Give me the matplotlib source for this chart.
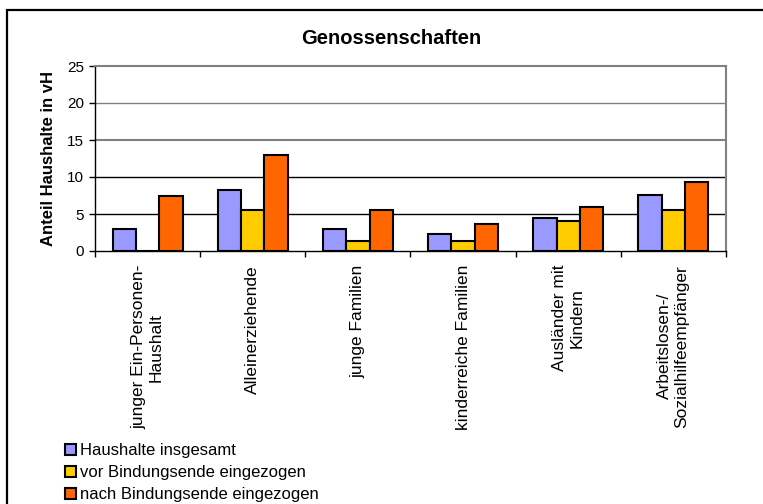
import matplotlib
matplotlib.use("Agg")
import matplotlib.pyplot as plt
from matplotlib.patches import Patch, Rectangle
import numpy as np

plt.rcParams['font.family'] = ['Liberation Sans', 'DejaVu Sans']

categories = ["junger Ein-Personen-\nHaushalt", "Alleinerziehende", "junge Familien",
              "kinderreiche Familien", "Ausländer mit\nKindern",
              "Arbeitslosen-/\nSozialhilfeempfänger"]
total = [3.0, 8.3, 3.0, 2.3, 4.5, 7.6]
before = [0.0, 5.5, 1.3, 1.3, 4.1, 5.5]
after = [7.4, 13.0, 5.5, 3.7, 5.9, 9.3]
series_names = ["Haushalte insgesamt", "vor Bindungsende eingezogen",
                "nach Bindungsende eingezogen"]
colors = ["#9999FF", "#FFCC00", "#FF6600"]
yticks = [0, 5, 10, 15, 20, 25]

W, H = 763, 504
fig = plt.figure(figsize=(W / 100, H / 100), dpi=100)
ax = fig.add_axes([95 / W, 1 - 251 / H, 631 / W, 185 / H])

x = np.arange(len(categories))
bw = 0.222
for i, (vals, col) in enumerate(zip([total, before, after], colors)):
    ax.bar(x + (i - 1) * bw, vals, bw, color=col, edgecolor="black",
           linewidth=1.5, zorder=3)

# gridlines
for y in yticks[1:-1]:
    c = "black" if y <= 10 else "#808080"
    ax.axhline(y, color=c, lw=1.0 if y != 15 else 1.5, zorder=1)

ax.set_xlim(-0.5, len(categories) - 0.5)
ax.set_ylim(0, 25)
ax.set_yticks(yticks)
ax.tick_params(axis="y", direction="out", length=4, width=1, pad=4, labelsize=11)

ax.set_xticks(np.arange(len(categories) + 1) - 0.5)
ax.set_xticklabels([])
ax.tick_params(axis="x", which="major", direction="out", length=4, width=1)
ax.set_xticks(x, minor=True)
ax.set_xticklabels(categories, minor=True, rotation=90, va="top", ha="center",
                   multialignment="center", fontsize=12.5)
ax.tick_params(axis="x", which="minor", length=0, pad=10)

for s in ["top", "right"]:
    ax.spines[s].set_color("#808080")
    ax.spines[s].set_linewidth(1.5)
for s in ["left", "bottom"]:
    ax.spines[s].set_color("black")
    ax.spines[s].set_linewidth(1.0)

ax.set_ylabel("Anteil Haushalte in vH", fontsize=12, fontweight="bold", labelpad=8)
fig.text(391.5 / W, 1 - 38 / H, "Genossenschaften", fontsize=14.5,
         fontweight="bold", ha="center", va="center")

handles = [Patch(facecolor=c, edgecolor="black", linewidth=1.5) for c in colors]
fig.legend(handles, series_names, loc="upper left",
           bbox_to_anchor=(65 / W, 1 - 443 / H), frameon=False, fontsize=12,
           handlelength=0.65, handleheight=0.65, handletextpad=0.25,
           labelspacing=0.42, borderpad=0, borderaxespad=0)

# outer chart frame
fig.add_artist(Rectangle((7 / W, -0.1), 1.2, 1 - 10 / H + 0.1, fill=False,
                         edgecolor="black", lw=1.6, transform=fig.transFigure))

fig.savefig("out.png", dpi=100)
